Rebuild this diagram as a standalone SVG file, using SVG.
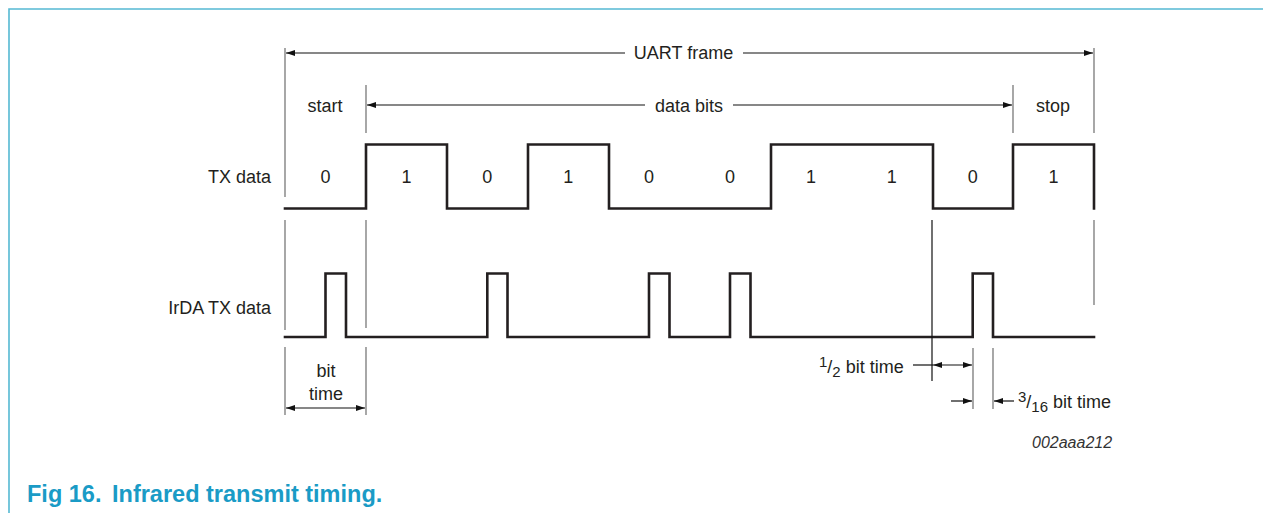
<svg xmlns="http://www.w3.org/2000/svg" width="1263" height="513" viewBox="0 0 1263 513">
<style>
  text { font-family: "Liberation Sans", Arial, sans-serif; fill: #231f20; }
  .lbl { font-size: 18px; }
  .mid { text-anchor: middle; }
  .end { text-anchor: end; }
  .sig { fill: none; stroke: #231f20; stroke-width: 2.6; stroke-linejoin: miter; stroke-linecap: square; }
  .guide { stroke: #6d6d6d; stroke-width: 1.2; fill: none; }
  .dim { stroke: #111; stroke-width: 1.2; fill: none; }
  .border { stroke: #55b9d3; stroke-width: 1.6; fill: none; }
  .cap { font-size: 23.5px; font-weight: bold; fill: #1a9bc6; }
  .sub { font-size: 15px; }
  .code { font-size: 16px; font-style: italic; fill: #333; }
</style>
<defs>
  <marker id="ah" markerUnits="userSpaceOnUse" markerWidth="10" markerHeight="7" refX="9" refY="3" orient="auto-start-reverse" viewBox="0 0 10 6">
    <path d="M0,0 L9,3 L0,6 z" fill="#111"/>
  </marker>
</defs>
<rect width="1263" height="513" fill="#ffffff"/>
<g id="border">
  <path class="border" d="M9,513 V9 H1263"/>
</g>
<g id="signals">
  <path id="tx-wave" class="sig" d="M285,208.5 H366 V144.5 H447 V208.5 H528 V144.5 H609 V208.5 H771 V144.5 H933 V208.5 H1013 V144.5 H1094 V208.5"/>
  <path id="irda-wave" class="sig" d="M285,337 H325.5 V273.5 H346 V337 H487.3 V273.5 H507.5 V337 H649 V273.5 H669.5 V337 H730 V273.5 H750.5 V337 H972.7 V273.5 H993 V337 H1094"/>
</g>
<g id="connectors">
  <line class="guide" x1="285" y1="48" x2="285" y2="197"/>
  <line class="guide" x1="1094" y1="48" x2="1094" y2="133"/>
  <line class="guide" x1="366" y1="85" x2="366" y2="133"/>
  <line class="guide" x1="1013" y1="85" x2="1013" y2="133"/>
  <line class="guide" x1="285" y1="220" x2="285" y2="330"/>
  <line class="guide" x1="366" y1="220" x2="366" y2="328"/>
  <line class="guide" x1="1094" y1="220" x2="1094" y2="305"/>
  <line class="dim" x1="932" y1="220" x2="932" y2="381"/>
  <line class="guide" x1="285" y1="347" x2="285" y2="415"/>
  <line class="guide" x1="366" y1="347" x2="366" y2="415"/>
  <line class="guide" x1="973" y1="348" x2="973" y2="409"/>
  <line class="guide" x1="993" y1="348" x2="993" y2="409"/>
  <line class="dim" x1="286" y1="53" x2="625" y2="53" marker-start="url(#ah)"/>
  <line class="dim" x1="743" y1="53" x2="1093" y2="53" marker-end="url(#ah)"/>
  <line class="dim" x1="367" y1="105" x2="645" y2="105" marker-start="url(#ah)"/>
  <line class="dim" x1="733" y1="105" x2="1012" y2="105" marker-end="url(#ah)"/>
  <line class="dim" x1="286" y1="408" x2="365" y2="408" marker-start="url(#ah)" marker-end="url(#ah)"/>
  <line class="dim" x1="913" y1="365" x2="933" y2="365"/>
  <line class="dim" x1="933" y1="365" x2="972" y2="365" marker-start="url(#ah)" marker-end="url(#ah)"/>
  <line class="dim" x1="951" y1="401" x2="972" y2="401" marker-end="url(#ah)"/>
  <line class="dim" x1="994" y1="401" x2="1014" y2="401" marker-start="url(#ah)"/>
</g>
<g id="labels">
  <text class="lbl mid" x="683.5" y="58.5">UART frame</text>
  <text class="lbl mid" x="689" y="111.5">data bits</text>
  <text class="lbl mid" x="325" y="111.5">start</text>
  <text class="lbl mid" x="1053" y="111.5">stop</text>
  <text class="lbl end" x="271" y="183">TX data</text>
  <text class="lbl end" x="271" y="314">IrDA TX data</text>
  <g id="bits">
    <text class="lbl mid" x="325.5" y="182.5">0</text>
    <text class="lbl mid" x="406.4" y="182.5">1</text>
    <text class="lbl mid" x="487.3" y="182.5">0</text>
    <text class="lbl mid" x="568.2" y="182.5">1</text>
    <text class="lbl mid" x="649.1" y="182.5">0</text>
    <text class="lbl mid" x="730" y="182.5">0</text>
    <text class="lbl mid" x="810.9" y="182.5">1</text>
    <text class="lbl mid" x="891.8" y="182.5">1</text>
    <text class="lbl mid" x="972.7" y="182.5">0</text>
    <text class="lbl mid" x="1053.6" y="182.5">1</text>
  </g>
  <text class="lbl mid" x="326" y="377">bit</text>
  <text class="lbl mid" x="326" y="400">time</text>
  <text class="lbl" x="819" y="373"><tspan class="sub" dy="-6">1</tspan><tspan dy="6">/</tspan><tspan class="sub" dy="4">2</tspan><tspan dy="-4"> bit time</tspan></text>
  <text class="lbl" x="1018" y="408"><tspan class="sub" dy="-6">3</tspan><tspan dy="6">/</tspan><tspan class="sub" dy="4">16</tspan><tspan dy="-4"> bit time</tspan></text>
  <text class="code" x="1032" y="448">002aaa212</text>
  <text class="cap" x="27" y="502">Fig 16.<tspan x="112">Infrared transmit timing.</tspan></text>
</g>
</svg>
